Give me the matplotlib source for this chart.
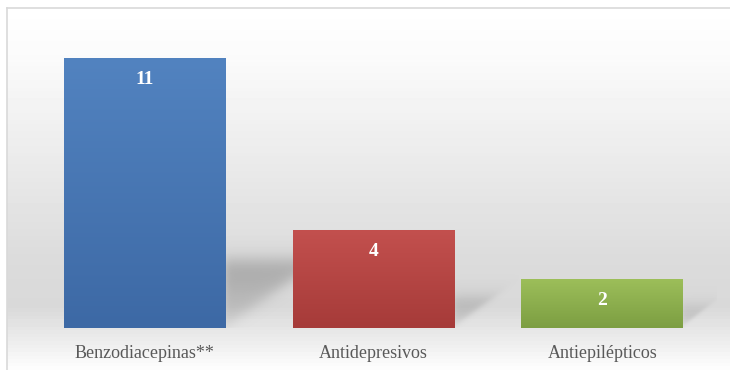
import numpy as np
import matplotlib
matplotlib.use('Agg')
import matplotlib.pyplot as plt
from matplotlib.colors import LinearSegmentedColormap

categories = ['Benzodiacepinas**', 'Antidepresivos', 'Antiepilépticos']
values = [11, 4, 2]
top_colors = ['#5283c0', '#c3504e', '#9dbf5a']
bottom_colors = ['#3d69a5', '#a63b39', '#7c9e42']

plt.rcParams['font.family'] = ['Liberation Serif', 'DejaVu Serif']

fig = plt.figure(figsize=(7.3, 3.7), dpi=100)
fig.patch.set_facecolor('white')

# background panel with soft vertical gradient
bg = fig.add_axes([7/730, 0, 1 - 7/730, 1 - 8/370])
grad = np.concatenate([np.linspace(1.0, 0.985, 12), np.linspace(0.985, 0.86, 58),
                       np.linspace(0.86, 0.85, 12), np.linspace(0.85, 0.99, 18)])
bg.imshow(grad[:, None], aspect='auto', cmap='gray', vmin=0, vmax=1,
          extent=[0, 1, 0, 1], origin='upper')
bg.set_xlim(0, 1)
bg.set_ylim(0, 1)
bg.set_xticks([])
bg.set_yticks([])
for s in ['right', 'bottom']:
    bg.spines[s].set_visible(False)
for s in ['left', 'top']:
    bg.spines[s].set_color('#d9d9d9')
    bg.spines[s].set_linewidth(1.2)

ax = fig.add_axes([30.6/730, 42/370, 686/730, 295/370])
ax.patch.set_alpha(0)
x = np.arange(len(values))
w = 0.708

# soft perspective shadows behind the bars
gx, gy = np.meshgrid(np.linspace(-0.5, 2.5, 700), np.linspace(0, 12, 300))
alpha = np.zeros_like(gx)
for i, v in enumerate(values):
    xr = i + w/2 - 0.01
    hs = 0.22 * v + 0.3
    dx = 0.035 * v + 0.03
    top = 1 / (1 + np.exp(-(hs - gy) / 0.22))
    left = 1 / (1 + np.exp(-(gx - xr) / 0.01))
    # diagonal lower edge from (xr, 0) to (xr + dx, hs)
    diag = (gy / hs) - (gx - xr) / dx
    d = 1 / (1 + np.exp(-diag / 0.07))
    shade = top * left * d * (0.35 + 0.65 * np.clip(gy / hs, 0, 1))
    alpha = np.maximum(alpha, shade * (0.3 + 0.015 * v))
rgba = np.zeros(gx.shape + (4,))
rgba[..., :3] = 0.4
rgba[..., 3] = alpha
ax.imshow(rgba, extent=[-0.5, 2.5, 0, 12], origin='lower', aspect='auto',
          zorder=1, interpolation='bilinear')

bars = ax.bar(x, values, width=w, zorder=2, color=top_colors,
              edgecolor='none')
for b, c1, c2 in zip(bars, top_colors, bottom_colors):
    cm = LinearSegmentedColormap.from_list('g', [c2, c1])
    im = ax.imshow(np.linspace(0, 1, 100)[:, None], aspect='auto', cmap=cm,
                   extent=[b.get_x(), b.get_x() + b.get_width(), 0, b.get_height()],
                   origin='lower', zorder=3)
    im.set_clip_path(b)

for i, v in enumerate(values):
    ax.annotate(str(v), (i, v), xytext=(0, -15.5), textcoords='offset points',
                ha='center', va='center', color='white', fontsize=14,
                fontweight='bold', zorder=4)

ax.set_xlim(-0.5, 2.5)
ax.set_ylim(0, 12)
ax.set_yticks([])
ax.set_xticks(x)
ax.set_xticklabels(categories, fontsize=13, color='#595959')
ax.tick_params(axis='x', length=0, pad=12)
for s in ax.spines.values():
    s.set_visible(False)

fig.savefig('out.png', dpi=100)
